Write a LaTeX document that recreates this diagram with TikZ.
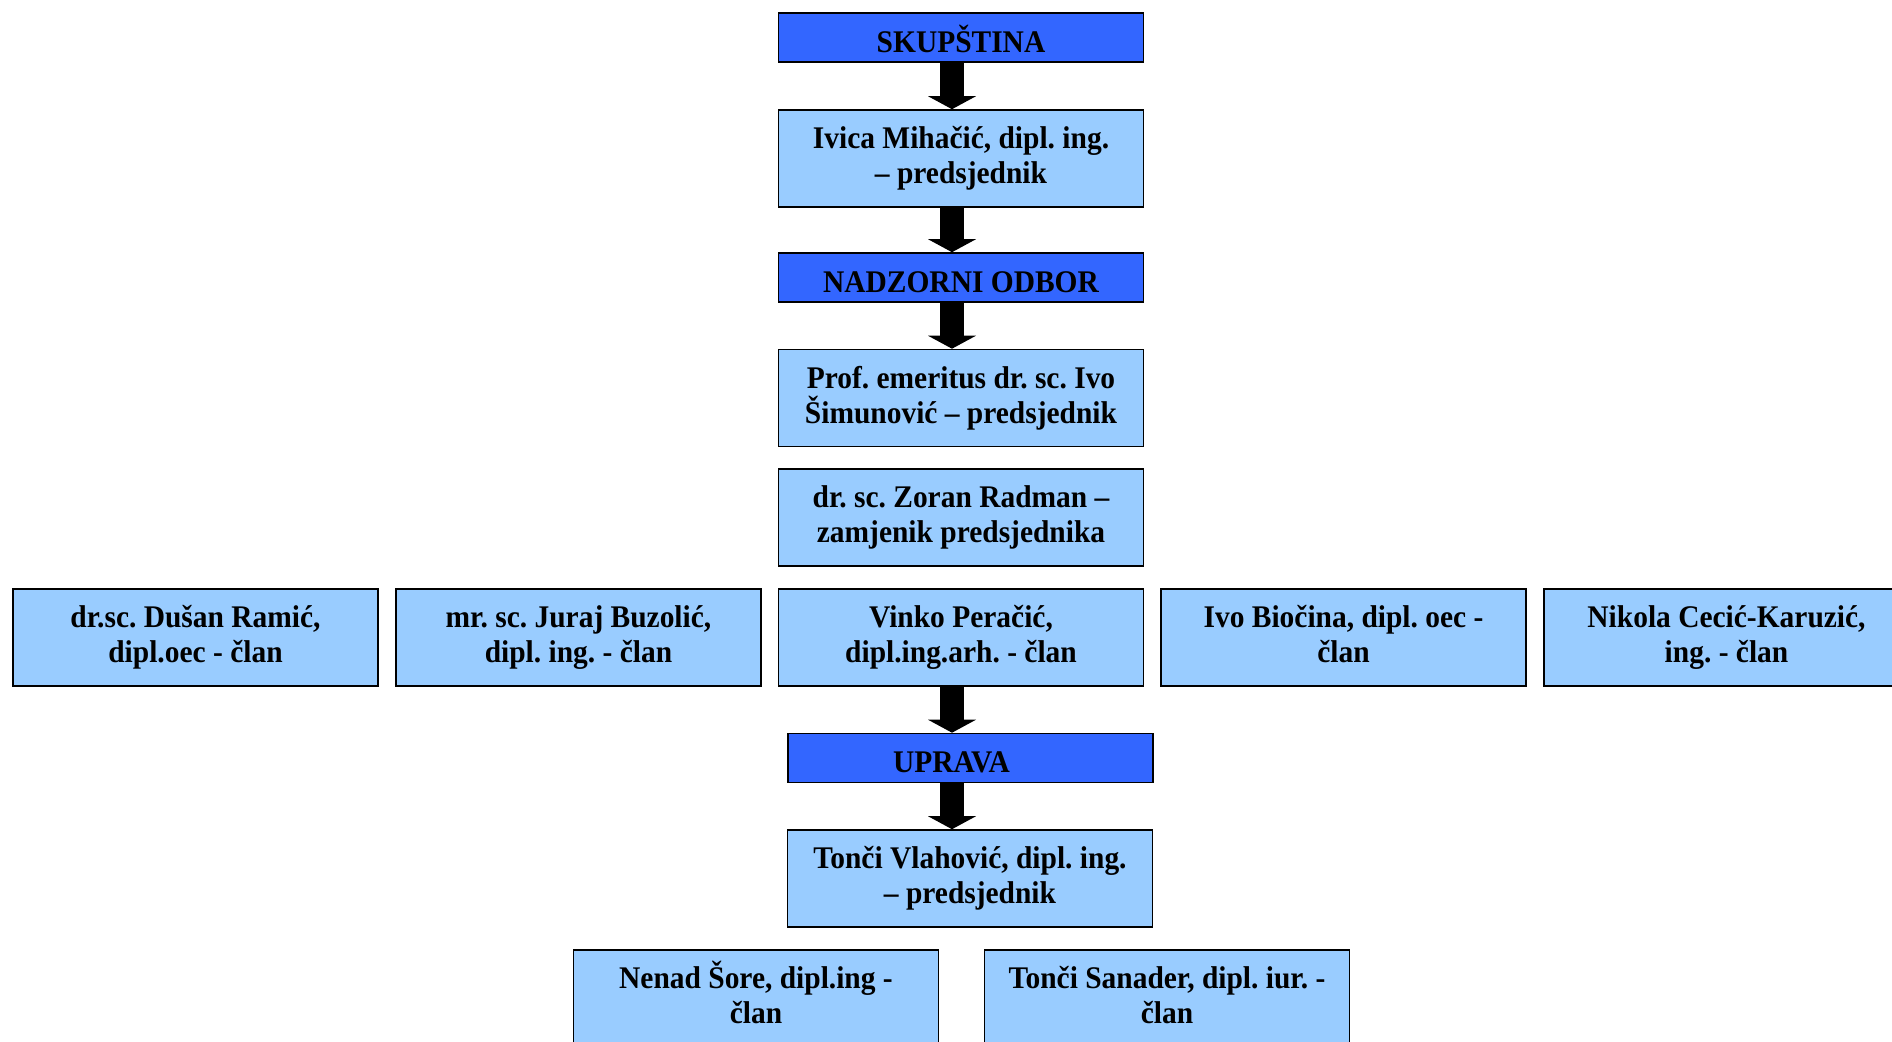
\documentclass[tikz,border=0pt]{standalone}
\usepackage{fontspec}
\setmainfont[FakeStretch=0.935]{Liberation Serif}
\usetikzlibrary{arrows.meta}

\definecolor{headblue}{RGB}{51,102,255}
\definecolor{boxblue}{RGB}{153,204,255}

\begin{document}
\frenchspacing
\begin{tikzpicture}[x=0.5pt, y=-0.5pt,
  box/.style={draw=black, line width=0.8pt, fill=boxblue, inner sep=0pt,
    minimum width=182.5pt, minimum height=48.5pt, align=center,
    font=\fontsize{15.75pt}{17.5pt}\selectfont\bfseries},
  headbox/.style={box, fill=headblue, minimum height=24.5pt,
    text height=14.5pt, text depth=0pt},
  bigarrow/.style={line width=12pt,
    -{Triangle[width=24pt, length=6.5pt, line width=0pt]}}]
% Set the page size (pixels of the original)
\useasboundingbox (0,0) rectangle (1892,1041);
\clip (0,0) rectangle (1892,1041);

% Skupstina and its president
\node[headbox] (skup) at (961,37.5) {SKUPŠTINA};
\node[box] (ivica) at (961,158.5) {Ivica Mihačić, dipl. ing.\\– predsjednik};

% Supervisory board
\node[headbox] (nadzor) at (961,277.5) {NADZORNI ODBOR};
\node[box] (prof) at (961,398) {Prof. emeritus dr. sc. Ivo\\Šimunović – predsjednik};
\node[box] (zoran) at (961,517.5) {dr. sc. Zoran Radman –\\zamjenik predsjednika};

% Members of the board, one row
\node[box] (ramic) at (195.5,637.5) {dr.sc. Dušan Ramić,\\dipl.oec - član};
\node[box] (buzolic) at (578.5,637.5) {mr. sc. Juraj Buzolić,\\dipl. ing. - član};
\node[box] (peracic) at (961,637.5) {Vinko Peračić,\\dipl.ing.arh. - član};
\node[box] (biocina) at (1343.5,637.5) {Ivo Biočina, dipl. oec -\\član\vphantom{p}};
\node[box] (cecic) at (1726.5,637.5) {Nikola Cecić-Karuzić,\\ing. - član};

% Management
\node[headbox] (uprava) at (970.5,758) {UPRAVA\hspace*{19pt}};
\node[box] (vlahovic) at (970,878.5) {Tonči Vlahović, dipl. ing.\\– predsjednik};
\node[box] (sore) at (756,998.5) {\smash{Nenad Šore}\vphantom{ć}, dipl.ing -\\član\vphantom{p}};
\node[box] (sanader) at (1167,998.5) {Tonči Sanader, dipl. iur. -\\član\vphantom{p}};

% Arrows
\coordinate (axis) at (952,0);
\draw[bigarrow] (axis |- skup.south) -- (axis |- ivica.north);
\draw[bigarrow] (axis |- ivica.south) -- (axis |- nadzor.north);
\draw[bigarrow] (axis |- nadzor.south) -- (axis |- prof.north);
\draw[bigarrow] (axis |- peracic.south) -- (axis |- uprava.north);
\draw[bigarrow] (axis |- uprava.south) -- (axis |- vlahovic.north);
\end{tikzpicture}
\end{document}
